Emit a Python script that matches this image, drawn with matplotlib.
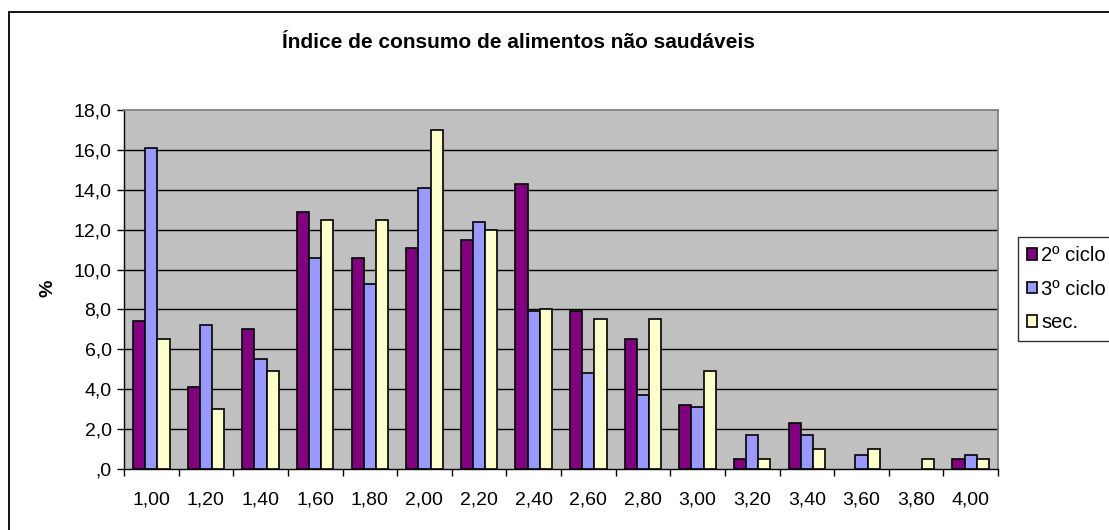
import matplotlib
matplotlib.use("Agg")
import matplotlib.pyplot as plt
from matplotlib.patches import Rectangle
import numpy as np

plt.rcParams['font.family'] = ['Liberation Sans', 'DejaVu Sans']

categories = ["1,00", "1,20", "1,40", "1,60", "1,80", "2,00", "2,20", "2,40",
              "2,60", "2,80", "3,00", "3,20", "3,40", "3,60", "3,80", "4,00"]
ciclo2 = [7.4, 4.1, 7.0, 12.9, 10.6, 11.1, 11.5, 14.3, 7.9, 6.5, 3.2, 0.5, 2.3, 0.0, 0.0, 0.5]
ciclo3 = [16.1, 7.2, 5.5, 10.6, 9.3, 14.1, 12.4, 7.9, 4.8, 3.7, 3.1, 1.7, 1.7, 0.7, 0.0, 0.7]
sec = [6.5, 3.0, 4.9, 12.5, 12.5, 17.0, 12.0, 8.0, 7.5, 7.5, 4.9, 0.5, 1.0, 1.0, 0.5, 0.5]
series_names = ["2º ciclo", "3º ciclo", "sec."]
y_ticks = [0, 2, 4, 6, 8, 10, 12, 14, 16, 18]
y_tick_labels = [",0", "2,0", "4,0", "6,0", "8,0", "10,0", "12,0", "14,0", "16,0", "18,0"]
title = "Índice de consumo de alimentos não saudáveis"
ylabel = "%"

W, H = 1109, 530
fig = plt.figure(figsize=(W / 100, H / 100), dpi=100)

# outer chart border (extends past right and bottom edges)
fig.patches.append(Rectangle((9 / W, -0.1), 1.2, 1 - 12 / H + 0.1, transform=fig.transFigure,
                             fill=False, edgecolor="black", linewidth=1.3))

left, right, top, bottom = 124, 998, 110, 469
ax = fig.add_axes([left / W, (H - bottom) / H, (right - left) / W, (bottom - top) / H])
ax.set_facecolor("#C0C0C0")

x = np.arange(len(categories))
bw = 1 / 4.5
colors = ["#800080", "#9999FF", "#FFFFCC"]
for i, (vals, c, name) in enumerate(zip([ciclo2, ciclo3, sec], colors, series_names)):
    edges = ["black" if v > 0 else "none" for v in vals]
    ax.bar(x + (i - 1) * bw, vals, width=bw, color=c, edgecolor=edges,
           linewidth=1.2, label=name, zorder=3)

ax.set_xlim(-0.5, len(categories) - 0.5)
ax.set_ylim(0, 18)
ax.set_yticks(y_ticks)
ax.set_yticklabels(y_tick_labels)
ax.set_xticks(x)
ax.set_xticklabels(categories)
ax.set_xticks(np.arange(-0.5, len(categories)), minor=True)
ax.tick_params(axis="x", which="major", length=0, labelsize=14, pad=16)
ax.tick_params(axis="x", which="minor", length=5, width=1, direction="out", color="black")
ax.tick_params(axis="y", length=5, width=1, direction="out", labelsize=14, pad=4, color="black")

for yv in y_ticks[1:-1]:
    ax.axhline(yv, color="black", linewidth=1.0, zorder=1)

for s in ["top", "right"]:
    ax.spines[s].set_color("#808080")
    ax.spines[s].set_linewidth(1.3)
ax.spines["left"].set_color("black")
ax.spines["bottom"].set_color("black")
ax.spines["left"].set_linewidth(1.0)
ax.spines["bottom"].set_linewidth(1.0)

fig.text(518 / W, 1 - 42 / H, title, ha="center", va="center", fontsize=15, fontweight="bold")
fig.text(48 / W, 1 - 288 / H, ylabel, ha="center", va="center", rotation=90,
         fontsize=14, fontweight="bold")

leg = fig.legend(loc="upper left", bbox_to_anchor=(1018 / W, 1 - 237 / H),
                 bbox_transform=fig.transFigure, fontsize=14.5, frameon=True,
                 fancybox=False, edgecolor="black", handlelength=0.5, handleheight=0.5,
                 handletextpad=0.2, labelspacing=0.72, borderpad=0.45, borderaxespad=0)
leg.get_frame().set_linewidth(1.0)

fig.savefig("out.png", dpi=100)
